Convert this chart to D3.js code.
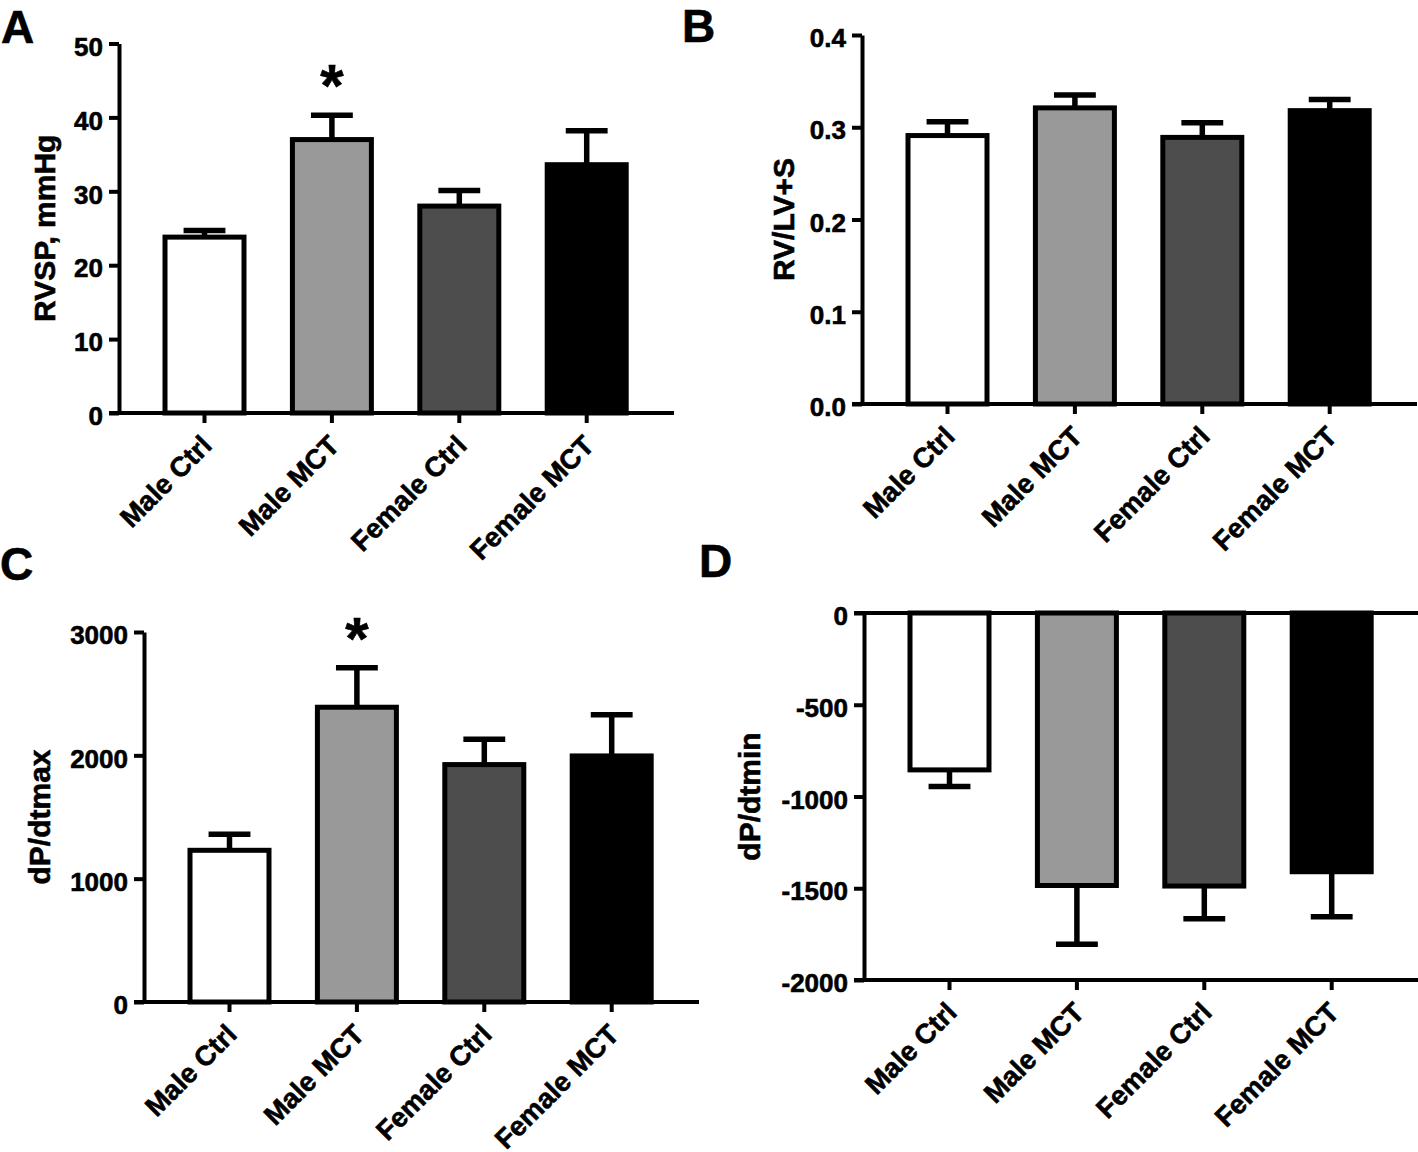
<!DOCTYPE html>
<html>
<head>
<meta charset="utf-8">
<script src="https://cdn.jsdelivr.net/npm/d3@7"></script>
<style>
body { margin: 0; background: #fff; }
text { font-family: "Liberation Sans", Arial, sans-serif; font-weight: bold; stroke: #000; stroke-width: 0.6px; }
</style>
</head>
<body>
<script>

var groups = ["Male Ctrl", "Male MCT", "Female Ctrl", "Female MCT"];
var fills = ["#ffffff", "#999999", "#4d4d4d", "#000000"];

// A - RVSP
var rvspMean = [23.8, 37.0, 28.0, 33.6];
var rvspSem = [0.9, 3.3, 2.1, 4.6];
var rvspTicks = [0, 10, 20, 30, 40, 50];
var rvspTickLabels = ["0", "10", "20", "30", "40", "50"];
var rvspStars = ["", "*", "", ""];

// B - RV/LV+S
var rvMean = [0.291, 0.321, 0.289, 0.318];
var rvSem = [0.015, 0.014, 0.016, 0.012];
var rvTicks = [0, 0.1, 0.2, 0.3, 0.4];
var rvTickLabels = ["0.0", "0.1", "0.2", "0.3", "0.4"];
var rvStars = ["", "", "", ""];

// C - dP/dtmax
var dpMaxMean = [1230, 2390, 1925, 1995];
var dpMaxSem = [130, 320, 205, 335];
var dpMaxTicks = [0, 1000, 2000, 3000];
var dpMaxTickLabels = ["0", "1000", "2000", "3000"];
var dpMaxStars = ["", "*", "", ""];

// D - dP/dtmin
var dpMinMean = [-855, -1485, -1488, -1410];
var dpMinSem = [90, 320, 178, 245];
var dpMinTicks = [0, -500, -1000, -1500, -2000];
var dpMinTickLabels = ["0", "-500", "-1000", "-1500", "-2000"];
var dpMinStars = ["", "", "", ""];

var w = 1418, h = 1152;
var svg = d3.select("body")
    .append("svg")
    .attr("width", w)
    .attr("height", h);

function drawPanel(p) {
    var g = svg.append("g");

    var y = d3.scaleLinear()
        .domain(p.domain)
        .range([p.bottom, p.top]);

    var x = d3.scaleBand()
        .domain(groups)
        .range([p.axisX + 21.8, p.axisX + 531.4]);

    var barW = x.bandwidth() * 0.62;
    var capW = barW * 0.53;
    var zero = y(0);
    var cx = function(i) { return x(groups[i]) + x.bandwidth() / 2; };

    // bars
    g.selectAll(".bar")
        .data(p.mean)
        .enter()
        .append("rect")
        .attr("x", function(d, i) { return cx(i) - barW / 2; })
        .attr("y", function(d) { return Math.min(y(d), zero); })
        .attr("width", barW)
        .attr("height", function(d) { return Math.abs(y(d) - zero); })
        .attr("fill", function(d, i) { return fills[i]; })
        .attr("stroke", "#000")
        .attr("stroke-width", 5);

    // error bars (one side, away from zero)
    var tip = function(d, i) { return d + (d < 0 ? -1 : 1) * p.sem[i]; };
    g.selectAll(".stem")
        .data(p.mean)
        .enter()
        .append("line")
        .attr("x1", function(d, i) { return cx(i); })
        .attr("x2", function(d, i) { return cx(i); })
        .attr("y1", function(d) { return y(d); })
        .attr("y2", function(d, i) { return y(tip(d, i)); })
        .attr("stroke", "#000")
        .attr("stroke-width", 5.5);
    g.selectAll(".cap")
        .data(p.mean)
        .enter()
        .append("line")
        .attr("x1", function(d, i) { return cx(i) - capW / 2; })
        .attr("x2", function(d, i) { return cx(i) + capW / 2; })
        .attr("y1", function(d, i) { return y(tip(d, i)); })
        .attr("y2", function(d, i) { return y(tip(d, i)); })
        .attr("stroke", "#000")
        .attr("stroke-width", 5.5);

    // significance stars
    g.selectAll(".star")
        .data(p.mean)
        .enter()
        .append("text")
        .attr("x", function(d, i) { return cx(i); })
        .attr("y", function(d, i) { return y(tip(d, i)) - 9; })
        .attr("text-anchor", "middle")
        .style("font-size", "60px")
        .text(function(d, i) { return p.stars[i]; });

    // y axis
    var yAxis = g.append("g")
        .attr("transform", "translate(" + p.axisX + ",0)")
        .call(d3.axisLeft(y)
            .tickValues(p.ticks)
            .tickSize(10)
            .tickSizeOuter(0)
            .tickPadding(6)
            .tickFormat(function(d, i) { return p.tickLabels[i]; }));
    yAxis.select(".domain").attr("stroke", "#000").attr("stroke-width", 4);
    yAxis.selectAll(".tick line").attr("stroke", "#000").attr("stroke-width", 4);
    yAxis.selectAll(".tick text")
        .attr("dy", "0.45em")
        .attr("fill", "#000")
        .style("font-size", "26px");

    // x axis
    var xAxis = g.append("g")
        .attr("transform", "translate(0," + p.bottom + ")")
        .call(d3.axisBottom(x).tickSize(10).tickSizeOuter(0));
    xAxis.select(".domain").remove();
    xAxis.selectAll(".tick line").attr("stroke", "#000").attr("stroke-width", 4);
    xAxis.selectAll(".tick text")
        .attr("x", 0)
        .attr("y", 0)
        .attr("dy", null)
        .attr("transform", "translate(9,34) rotate(-45)")
        .attr("text-anchor", "end")
        .attr("fill", "#000")
        .style("font-size", "27.5px");

    var lines = [p.bottom];
    if (p.domain[1] === 0) lines.push(zero);
    lines.forEach(function(ly) {
        g.append("line")
            .attr("x1", p.axisX - 10)
            .attr("x2", p.axisX + 555)
            .attr("y1", ly)
            .attr("y2", ly)
            .attr("stroke", "#000")
            .attr("stroke-width", 4);
    });

    // axis title
    g.append("text")
        .attr("transform", "translate(" + p.titleX + "," + ((p.top + p.bottom) / 2) + ") rotate(-90)")
        .attr("text-anchor", "middle")
        .style("font-size", "30px")
        .text(p.title);

    // panel letter
    g.append("text")
        .attr("x", p.letterX)
        .attr("y", p.letterY)
        .style("font-size", "46px")
        .text(p.letter);
}

drawPanel({
    letter: "A", letterX: 1, letterY: 43,
    axisX: 119, top: 43.5, bottom: 413, titleX: 55,
    domain: [0, 50], mean: rvspMean, sem: rvspSem,
    ticks: rvspTicks, tickLabels: rvspTickLabels, stars: rvspStars,
    title: "RVSP, mmHg"
});

drawPanel({
    letter: "B", letterX: 682, letterY: 42,
    axisX: 862, top: 35, bottom: 404, titleX: 794,
    domain: [0, 0.4], mean: rvMean, sem: rvSem,
    ticks: rvTicks, tickLabels: rvTickLabels, stars: rvStars,
    title: "RV/LV+S"
});

drawPanel({
    letter: "C", letterX: 0, letterY: 580,
    axisX: 144, top: 632, bottom: 1002, titleX: 50,
    domain: [0, 3000], mean: dpMaxMean, sem: dpMaxSem,
    ticks: dpMaxTicks, tickLabels: dpMaxTickLabels, stars: dpMaxStars,
    title: "dP/dtmax"
});

drawPanel({
    letter: "D", letterX: 699, letterY: 577,
    axisX: 864, top: 613, bottom: 980, titleX: 760,
    domain: [-2000, 0], mean: dpMinMean, sem: dpMinSem,
    ticks: dpMinTicks, tickLabels: dpMinTickLabels, stars: dpMinStars,
    title: "dP/dtmin"
});

</script>
</body>
</html>
